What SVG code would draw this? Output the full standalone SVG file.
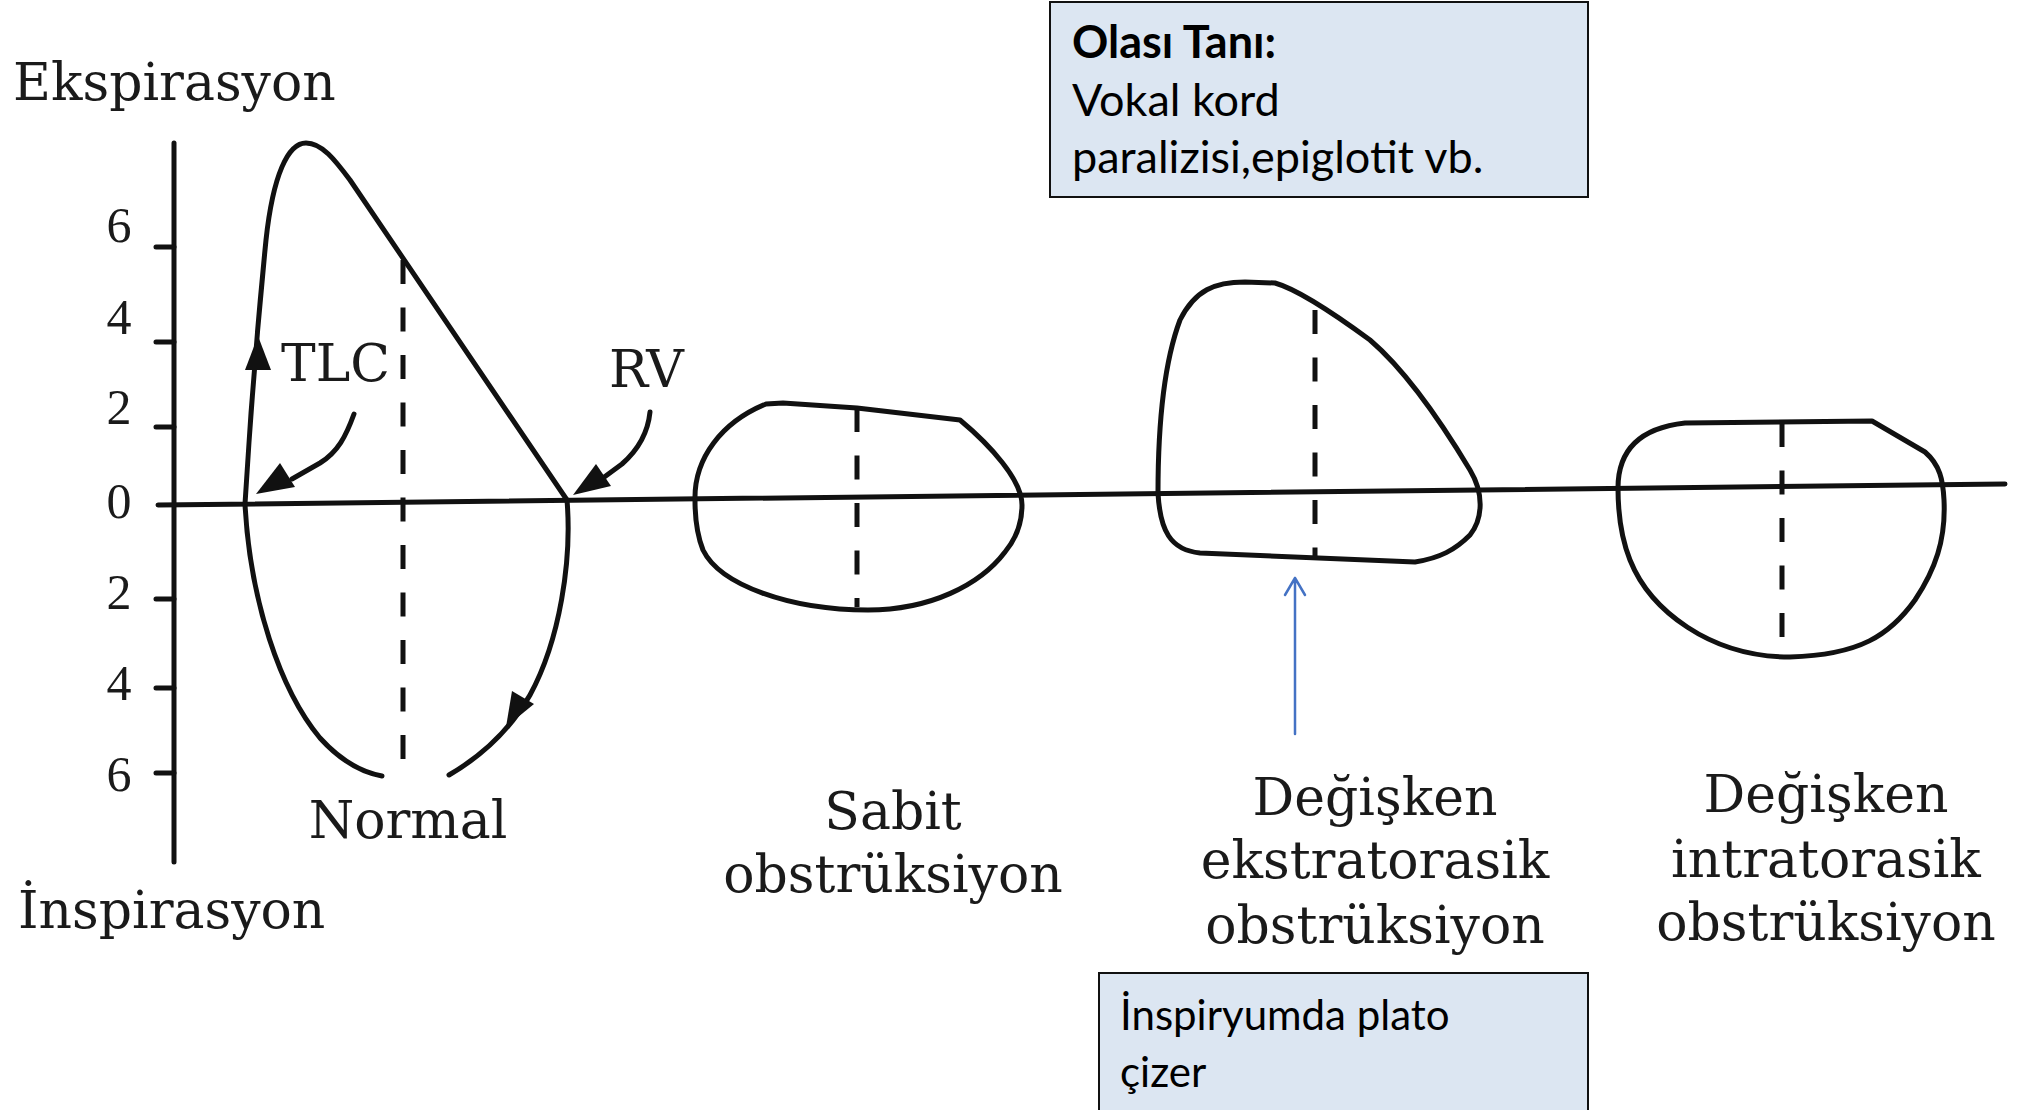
<svg xmlns="http://www.w3.org/2000/svg" width="2018" height="1110" viewBox="0 0 2018 1110">
<defs>
<style>
.ln{fill:none;stroke:#111;stroke-width:5;stroke-linecap:round;stroke-linejoin:round}
.ds{fill:none;stroke:#111;stroke-width:5;stroke-dasharray:24 23.5}
.lbl{font-family:"DejaVu Serif","Liberation Serif",serif;font-size:52px;fill:#1a1a1a}
.num{font-family:"Liberation Serif","DejaVu Serif",serif;font-size:50px;fill:#1a1a1a;text-anchor:middle}
.mid{text-anchor:middle}
.box{fill:#dce6f2;stroke:#111;stroke-width:2}
.bt{font-family:Lato,"Open Sans","Liberation Sans",sans-serif;font-size:45px;fill:#000}
.bt2{font-family:Lato,"Open Sans","Liberation Sans",sans-serif;font-size:42px;fill:#000}
.ah{fill:#111;stroke:none}
.blue{fill:none;stroke:#4472c4;stroke-width:2.5;stroke-linecap:round;stroke-linejoin:round}
</style>
</defs>
<rect width="2018" height="1110" fill="#fff"/>

<g id="axes">
<line class="ln" x1="174" y1="143" x2="174" y2="862"/>
<path class="ln" d="M158 505 L2005 484"/>
<path class="ln" d="M156 247H174M156 342H174M156 427H174M156 599H174M156 688H174M156 773H174"/>
<text class="num" x="119" y="242">6</text>
<text class="num" x="119" y="334">4</text>
<text class="num" x="119" y="424">2</text>
<text class="num" x="119" y="518">0</text>
<text class="num" x="119" y="609">2</text>
<text class="num" x="119" y="700">4</text>
<text class="num" x="119" y="791">6</text>
<text class="lbl" x="13" y="100">Ekspirasyon</text>
<text class="lbl" x="18" y="928">İnspirasyon</text>
</g>

<g id="normal">
<path class="ln" d="M245 504 C250 420 258 320 266 240 C273 175 288 143 306 143 C322 143 335 160 350 180 L567 500"/>
<path class="ln" d="M245 504 C250 600 280 690 320 738 C340 760 360 772 382 776"/>
<path class="ln" d="M567 500 C572 560 560 640 530 695 C510 730 480 757 449 775"/>
<path class="ds" d="M403 260 V760"/>
<path class="ah" d="M258 336 L271 370 L245 370 Z"/>
<path class="ah" d="M506 727 L512 691 L534 704 Z"/>
<text class="lbl" x="281" y="381">TLC</text>
<text class="lbl" x="609" y="387">RV</text>
<text class="lbl mid" x="408" y="838">Normal</text>
</g>

<g id="sabit">
<path class="ln" d="M695 500 C694 458 722 422 766 404 L783 403 L857 408 L960 420 C990 445 1022 480 1022 505 C1022 525 1015 540 1005 552 C980 585 930 610 868 610 C790 610 720 585 703 550 C697 535 695 520 695 500 Z"/>
<path class="ds" d="M857 408 V607"/>
<text class="lbl mid" x="893" y="829">Sabit</text>
<text class="lbl mid" x="893" y="892">obstrüksiyon</text>
</g>

<g id="ekstratorasik">
<path class="ln" d="M1158 493 C1158 420 1165 360 1180 320 C1195 290 1215 282 1245 282 L1275 283 C1300 290 1340 318 1370 340 C1405 370 1440 420 1470 470 C1485 495 1482 520 1470 535 C1455 550 1440 558 1415 562 L1200 553 C1170 550 1160 530 1158 493 Z"/>
<path class="ds" d="M1315 310 V557"/>
<text class="lbl mid" x="1375" y="815">Değişken</text>
<text class="lbl mid" x="1375" y="878">ekstratorasik</text>
<text class="lbl mid" x="1375" y="943">obstrüksiyon</text>
</g>

<g id="intratorasik">
<path class="ln" d="M1618 488 C1618 450 1640 428 1685 423 L1872 421 L1925 452 C1940 465 1943 480 1944 500 C1946 540 1935 570 1915 600 C1890 635 1860 655 1790 657 C1710 657 1650 610 1630 560 C1620 535 1618 510 1618 488 Z"/>
<path class="ds" d="M1782 423 V638"/>
<text class="lbl mid" x="1826" y="812">Değişken</text>
<text class="lbl mid" x="1826" y="877">intratorasik</text>
<text class="lbl mid" x="1826" y="940">obstrüksiyon</text>
</g>

<g id="box-tani">
<rect class="box" x="1050" y="2" width="538" height="195"/>
<text class="bt" x="1072" y="58" font-weight="bold">Olası Tanı:</text>
<text class="bt" x="1072" y="116">Vokal kord</text>
<text class="bt" x="1072" y="173">paralizisi,epiglotit vb.</text>
</g>

<g id="box-plato">
<rect class="box" x="1099" y="973" width="489" height="150"/>
<text class="bt2" x="1120" y="1030">İnspiryumda plato</text>
<text class="bt2" x="1120" y="1087">çizer</text>
</g>

<g id="connectors">
<path class="ln" d="M354 414 C346 436 338 452 320 463 L292 479"/>
<path class="ah" d="M256 494 L280 463 L295 487 Z"/>
<path class="ln" d="M650 412 C648 432 638 450 622 464 L603 478"/>
<path class="ah" d="M573 495 L596 464 L611 486 Z"/>
<path class="blue" d="M1295 734 V578 M1285 595 L1295 578 L1305 595"/>
</g>
</svg>
